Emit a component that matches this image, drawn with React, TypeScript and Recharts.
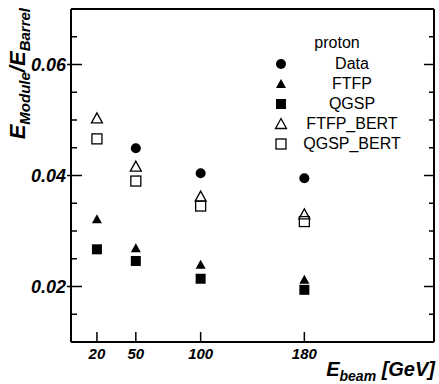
import React from "react";
import { ScatterChart, Scatter, XAxis, YAxis } from "recharts";

// beam energies (GeV) and E_Module/E_Barrel ratios
const energies = [20, 50, 100, 180];
const dataEnergies = [50, 100, 180];
const dataRatio = [0.0449, 0.0404, 0.0395];
const ftfpRatio = [0.0321, 0.0269, 0.0239, 0.0212];
const qgspRatio = [0.0267, 0.0246, 0.0214, 0.0194];
const ftfpBertRatio = [0.0503, 0.0416, 0.0362, 0.033];
const qgspBertRatio = [0.0466, 0.039, 0.0345, 0.0317];

const xTicks = [20, 50, 100, 180];
const yTicks = [0.015, 0.02, 0.025, 0.03, 0.035, 0.04, 0.045, 0.05, 0.055, 0.06, 0.065];
const yMajor = [0.02, 0.04, 0.06];
const legendTitle = "proton";
const seriesNames = ["Data", "FTFP", "QGSP", "FTFP_BERT", "QGSP_BERT"];

const FONT = "'Liberation Sans', Arial, Helvetica, sans-serif";

const toPoints = (xs: number[], ys: number[]) => xs.map((e, i) => ({ e, r: ys[i] }));

type Kind = "circle" | "triangle" | "square" | "triangleOpen" | "squareOpen";
const kinds: Kind[] = ["circle", "triangle", "square", "triangleOpen", "squareOpen"];

function Marker({ kind, cx, cy }: { kind: Kind; cx: number; cy: number }) {
  switch (kind) {
    case "circle":
      return <circle cx={cx} cy={cy} r={5} fill="#000" />;
    case "triangle":
      return <polygon points={`${cx},${cy - 5} ${cx - 5},${cy + 4} ${cx + 5},${cy + 4}`} fill="#000" />;
    case "square":
      return <rect x={cx - 5} y={cy - 5} width={10} height={10} fill="#000" />;
    case "triangleOpen":
      return (
        <polygon
          points={`${cx},${cy - 5.5} ${cx - 5.5},${cy + 4.5} ${cx + 5.5},${cy + 4.5}`}
          fill="none"
          stroke="#000"
          strokeWidth={1.3}
        />
      );
    default:
      return <rect x={cx - 5} y={cy - 5} width={10} height={10} fill="none" stroke="#000" strokeWidth={1.3} />;
  }
}

const isMajor = (v: number) => yMajor.some((m) => Math.abs(m - v) < 1e-9);

function LeftTick({ x, y, payload }: any) {
  const major = isMajor(payload.value);
  return (
    <g>
      <line x1={major ? x - 4 : x} x2={x + (major ? 11 : 6)} y1={y} y2={y} stroke="#000" strokeWidth={1.5} />
      {major && (
        <text x={x - 5} y={y} dy="0.36em" textAnchor="end" fontFamily={FONT} fontSize={18} fontWeight="bold" fontStyle="italic" fill="#000">
          {payload.value.toFixed(2)}
        </text>
      )}
    </g>
  );
}

function RightTick({ x, y, payload }: any) {
  const major = isMajor(payload.value);
  return <line x1={x} x2={x - (major ? 10 : 5)} y1={y} y2={y} stroke="#000" strokeWidth={1.5} />;
}

function BottomTick({ x, y, payload }: any) {
  return (
    <g>
      <line x1={x} x2={x} y1={y} y2={y - 10} stroke="#000" strokeWidth={1.5} />
      <text x={x} y={y + 17} textAnchor="middle" fontFamily={FONT} fontSize={15} fontWeight="bold" fontStyle="italic" fill="#000">
        {payload.value}
      </text>
    </g>
  );
}

function XTitle() {
  return (
    <text x={435} y={376} textAnchor="end" fontFamily={FONT} fontWeight="bold" fontStyle="italic" fill="#000" style={{ whiteSpace: "pre" }}>
      <tspan fontSize={20}>E</tspan>
      <tspan fontSize={14} dy={5}>beam</tspan>
      <tspan fontSize={20} dy={-5}>{" [GeV]"}</tspan>
    </text>
  );
}

function YTitle() {
  return (
    <text transform="rotate(-90)" x={-8} y={25} textAnchor="end" fontFamily={FONT} fontWeight="bold" fontStyle="italic" fill="#000">
      <tspan fontSize={22}>E</tspan>
      <tspan fontSize={15} dy={5}>Module</tspan>
      <tspan fontSize={22} dy={-5}>/E</tspan>
      <tspan fontSize={15} dy={5}>Barrel</tspan>
    </text>
  );
}

function LegendBox() {
  const rowTop = 64;
  const step = 20;
  return (
    <div style={{ position: "absolute", left: 0, top: 0, fontFamily: FONT, fontSize: 16, color: "#000" }}>
      <div style={{ position: "absolute", left: 277, top: 43 - 10, width: 120, lineHeight: "20px", textAlign: "center" }}>{legendTitle}</div>
      {seriesNames.map((name, i) => (
        <React.Fragment key={name}>
          <svg style={{ position: "absolute", left: 274, top: rowTop + i * step - 7 }} width={14} height={14}>
            <Marker kind={kinds[i]} cx={7} cy={7} />
          </svg>
          <div style={{ position: "absolute", left: 292, top: rowTop + i * step - 10, width: 120, lineHeight: "20px", textAlign: "center", whiteSpace: "nowrap" }}>
            {name}
          </div>
        </React.Fragment>
      ))}
    </div>
  );
}

const series = [
  toPoints(dataEnergies, dataRatio),
  toPoints(energies, ftfpRatio),
  toPoints(energies, qgspRatio),
  toPoints(energies, ftfpBertRatio),
  toPoints(energies, qgspBertRatio),
];

export default function App() {
  const frame = { stroke: "#000", strokeWidth: 2 };
  return (
    <div style={{ position: "relative", width: 439, height: 384, background: "#fff" }}>
      <style>{"body{margin:0}"}</style>
      <ScatterChart width={439} height={384} margin={{ top: 8, right: 4, bottom: 0, left: 0 }}>
        <XAxis
          xAxisId="b"
          dataKey="e"
          type="number"
          domain={[0, 280]}
          ticks={xTicks}
          height={42}
          tickSize={0}
          tickMargin={0}
          tickLine={false}
          tick={BottomTick}
          axisLine={frame}
          label={XTitle}
        />
        {/* top frame line (axes need a non-zero size to be drawn) */}
        <XAxis xAxisId="t" dataKey="e" type="number" orientation="top" domain={[0, 280]} height={1} tick={false} tickLine={false} axisLine={frame} />
        <YAxis
          yAxisId="l"
          dataKey="r"
          type="number"
          domain={[0.01, 0.07]}
          ticks={yTicks}
          width={71}
          tickSize={0}
          tickMargin={0}
          tickLine={false}
          tick={LeftTick}
          axisLine={frame}
          label={YTitle}
        />
        <YAxis
          yAxisId="r"
          dataKey="r"
          type="number"
          orientation="right"
          domain={[0.01, 0.07]}
          ticks={yTicks}
          width={1}
          tickSize={0}
          tickMargin={0}
          tickLine={false}
          tick={RightTick}
          axisLine={frame}
        />
        {series.map((pts, i) => (
          <Scatter
            key={seriesNames[i]}
            name={seriesNames[i]}
            xAxisId="b"
            yAxisId="l"
            data={pts}
            dataKey="r"
            isAnimationActive={false}
            shape={(p: any) => <Marker kind={kinds[i]} cx={p.cx} cy={p.cy} />}
          />
        ))}
        {/* invisible copy so the top/right frame axes get a data binding */}
        <Scatter
          name="frame"
          xAxisId="t"
          yAxisId="r"
          data={series[1]}
          dataKey="r"
          legendType="none"
          isAnimationActive={false}
          shape={() => <g />}
        />
      </ScatterChart>
      <LegendBox />
    </div>
  );
}
